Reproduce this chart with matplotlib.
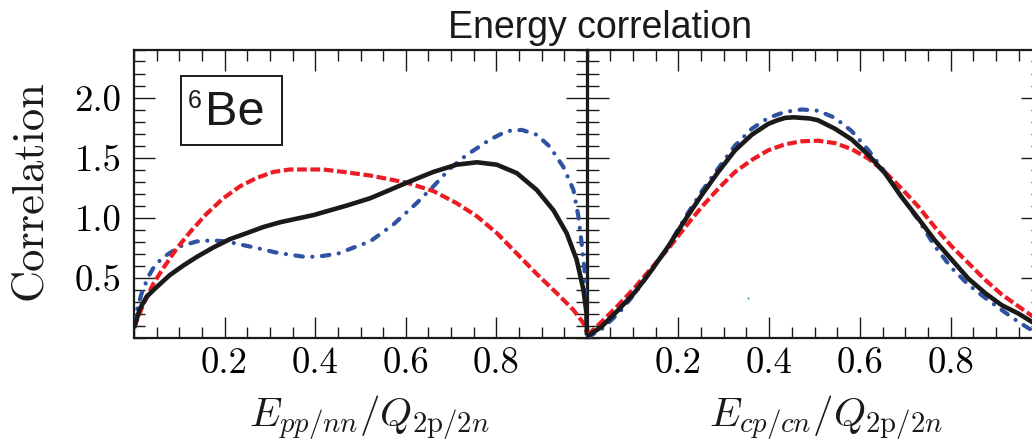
import matplotlib
matplotlib.use("Agg")
import matplotlib.pyplot as plt
from matplotlib.patches import Rectangle
from matplotlib.ticker import FixedLocator, MultipleLocator, NullFormatter, FixedFormatter

# ---- data -------------------------------------------------------------
# left panel: E_pp/nn / Q
pp_x_black = [0.0, 0.004, 0.013, 0.028, 0.050, 0.079, 0.109, 0.138, 0.175, 0.212,
              0.249, 0.285, 0.322, 0.359, 0.396, 0.433, 0.470, 0.521, 0.565, 0.602,
              0.661, 0.712, 0.757, 0.801, 0.845, 0.889, 0.926, 0.955, 0.977, 0.992,
              0.999, 1.0]
pp_y_black = [0.08, 0.13, 0.24, 0.34, 0.42, 0.52, 0.60, 0.67, 0.75, 0.82,
              0.87, 0.92, 0.96, 0.99, 1.02, 1.06, 1.10, 1.16, 1.23, 1.29,
              1.38, 1.44, 1.46, 1.44, 1.37, 1.23, 1.06, 0.87, 0.65, 0.40,
              0.20, 0.02]

pp_x_red = [0.0, 0.004, 0.021, 0.043, 0.065, 0.094, 0.124, 0.160, 0.197, 0.234,
            0.271, 0.308, 0.344, 0.381, 0.418, 0.462, 0.521, 0.602, 0.661, 0.712,
            0.757, 0.801, 0.845, 0.889, 0.933, 0.970, 0.992, 1.0]
pp_y_red = [0.08, 0.12, 0.28, 0.45, 0.58, 0.74, 0.88, 1.03, 1.16, 1.26,
            1.33, 1.38, 1.40, 1.40, 1.40, 1.38, 1.35, 1.29, 1.22, 1.12,
            1.01, 0.87, 0.70, 0.53, 0.37, 0.23, 0.12, 0.04]

pp_x_blue = [0.0, 0.004, 0.017, 0.032, 0.046, 0.065, 0.102, 0.138, 0.172, 0.205,
             0.241, 0.278, 0.311, 0.344, 0.381, 0.418, 0.451, 0.492, 0.521, 0.572,
             0.624, 0.661, 0.698, 0.734, 0.786, 0.823, 0.856, 0.889, 0.918, 0.948,
             0.970, 0.981, 0.988, 0.996, 1.0]
pp_y_blue = [0.10, 0.20, 0.37, 0.51, 0.60, 0.67, 0.76, 0.80, 0.81, 0.80,
             0.77, 0.74, 0.71, 0.69, 0.67, 0.68, 0.70, 0.76, 0.80, 0.94,
             1.12, 1.26, 1.41, 1.52, 1.65, 1.72, 1.73, 1.69, 1.59, 1.42,
             1.23, 1.01, 0.79, 0.51, 0.02]

# right panel: E_cp/cn / Q
cp_x_black = [0.0, 0.031, 0.068, 0.105, 0.141, 0.178, 0.215, 0.252, 0.288, 0.325,
              0.362, 0.398, 0.418, 0.435, 0.454, 0.472, 0.490, 0.508, 0.545, 0.582,
              0.619, 0.655, 0.692, 0.729, 0.765, 0.802, 0.839, 0.876, 0.912, 0.949,
              0.979, 1.0]
cp_y_black = [0.01, 0.09, 0.23, 0.38, 0.56, 0.76, 0.98, 1.19, 1.38, 1.56,
              1.69, 1.78, 1.81, 1.83, 1.835, 1.83, 1.825, 1.81, 1.74, 1.65,
              1.52, 1.37, 1.17, 0.99, 0.81, 0.65, 0.49, 0.37, 0.27, 0.20,
              0.13, 0.09]

cp_x_red = [0.0, 0.031, 0.068, 0.105, 0.141, 0.178, 0.215, 0.252, 0.288, 0.325,
            0.362, 0.398, 0.435, 0.472, 0.508, 0.545, 0.582, 0.619, 0.655, 0.692,
            0.729, 0.765, 0.802, 0.839, 0.876, 0.912, 0.949, 0.979, 1.0]
cp_y_red = [0.02, 0.13, 0.27, 0.42, 0.58, 0.74, 0.92, 1.09, 1.24, 1.38,
            1.48, 1.56, 1.61, 1.635, 1.64, 1.62, 1.57, 1.49, 1.38, 1.24,
            1.09, 0.92, 0.76, 0.62, 0.48, 0.36, 0.26, 0.18, 0.13]

cp_x_blue = [0.0, 0.031, 0.068, 0.105, 0.141, 0.178, 0.215, 0.252, 0.288, 0.325,
             0.362, 0.398, 0.435, 0.472, 0.508, 0.545, 0.582, 0.619, 0.655, 0.692,
             0.729, 0.765, 0.802, 0.839, 0.876, 0.912, 0.949, 0.979, 1.0]
cp_y_blue = [0.0, 0.07, 0.20, 0.37, 0.56, 0.76, 1.00, 1.22, 1.41, 1.60,
             1.74, 1.83, 1.88, 1.90, 1.89, 1.83, 1.72, 1.56, 1.38, 1.17,
             0.98, 0.76, 0.58, 0.44, 0.33, 0.23, 0.13, 0.06, 0.02]

stray_x = [0.354]
stray_y = [0.33]

x_ticks = [0.2, 0.4, 0.6, 0.8]
x_tick_labels = ["0.2", "0.4", "0.6", "0.8"]
y_ticks = [0.5, 1.0, 1.5, 2.0]
y_tick_labels = ["0.5", "1.0", "1.5", "2.0"]

title_text = "Energy correlation"
y_label = "Correlation"
x_label_left = r"$E_{pp/nn}/Q_{2\mathrm{p}/2n}$"
x_label_right = r"$E_{cp/cn}/Q_{2\mathrm{p}/2n}$"
nucleus_mass = "6"
nucleus_symbol = "Be"

# ---- styling ----------------------------------------------------------
plt.rcParams["mathtext.fontset"] = "cm"
plt.rcParams["lines.scale_dashes"] = False

BLACK = "#1a1a1a"
RED = "#ec1c24"
BLUE = "#2f52a2"
SERIF = "cmr10"
SANS = "Liberation Sans"

W, H = 1032, 443
fig = plt.figure(figsize=(W / 100, H / 100), dpi=100)

y0 = 1 - 337.5 / H
h = 288 / H
ax_l = fig.add_axes([134 / W, y0, 453 / W, h])
ax_r = fig.add_axes([587.5 / W, y0, 454 / W, h])


def style_axes(ax, show_ylabels):
    ax.set_xlim(0, 1)
    ax.set_ylim(0, 2.4)
    ax.xaxis.set_major_locator(FixedLocator(x_ticks))
    ax.xaxis.set_major_formatter(FixedFormatter(x_tick_labels))
    ax.xaxis.set_minor_locator(MultipleLocator(0.05))
    ax.xaxis.set_minor_formatter(NullFormatter())
    ax.yaxis.set_major_locator(FixedLocator(y_ticks))
    if show_ylabels:
        ax.yaxis.set_major_formatter(FixedFormatter(y_tick_labels))
    ax.yaxis.set_minor_locator(MultipleLocator(0.1))
    ax.yaxis.set_minor_formatter(NullFormatter())
    ax.tick_params(which="both", direction="in", top=True, bottom=True,
                   left=True, right=True, width=1.0, color=BLACK)
    ax.tick_params(which="major", length=15)
    ax.tick_params(which="minor", length=8)
    ax.tick_params(axis="x", pad=7, labelsize=26.5)
    ax.tick_params(axis="y", pad=9, labelsize=26.5, labelleft=show_ylabels)
    for lab in ax.get_xticklabels() + ax.get_yticklabels():
        lab.set_fontfamily(SERIF)
    for sp in ax.spines.values():
        sp.set_linewidth(1.6)
        sp.set_color(BLACK)


style_axes(ax_l, True)
style_axes(ax_r, False)

blue_dash = (0, (5.5, 6.8, 0.1, 6.8))
red_dash = (0, (7.0, 2.6))

for ax, xb, yb, xr, yr, xu, yu in [
    (ax_l, pp_x_black, pp_y_black, pp_x_red, pp_y_red, pp_x_blue, pp_y_blue),
    (ax_r, cp_x_black, cp_y_black, cp_x_red, cp_y_red, cp_x_blue, cp_y_blue),
]:
    ax.plot(xu, yu, color=BLUE, lw=3.0, linestyle=blue_dash,
            dash_capstyle="round", solid_joinstyle="round", zorder=3)
    ax.plot(xr, yr, color=RED, lw=3.0, linestyle=red_dash,
            dash_capstyle="butt", zorder=4)
    ax.plot(xb, yb, color=BLACK, lw=3.3, solid_capstyle="butt",
            solid_joinstyle="round", zorder=5)

ax_r.plot(stray_x, stray_y, "s", color="#1a9a3a", ms=1.2, mew=0, zorder=2)

# nucleus tag in a framed box
ax_l.add_patch(Rectangle((0.103, 1.604), 0.2246, 0.575, fill=False,
                         lw=1.4, edgecolor=BLACK, zorder=6))
ax_l.text(0.119, 1.9125, nucleus_mass, fontsize=18, family=SANS,
          color=BLACK, ha="left", va="baseline", zorder=7)
ax_l.text(0.156, 1.771, nucleus_symbol, fontsize=35, family=SANS,
          color=BLACK, ha="left", va="baseline", zorder=7)

# labels and title
fig.text(600 / W, 1 - 38 / H, title_text, fontsize=27, family=SANS,
         color=BLACK, ha="center", va="baseline")
fig.text(30 / W, 1 - 190 / H, y_label, fontsize=32, family=SERIF,
         color=BLACK, rotation=90, ha="center", va="center")
fig.text(369 / W, 1 - 426 / H, x_label_left, fontsize=29.5,
         color=BLACK, ha="center", va="baseline")
fig.text(826 / W, 1 - 426 / H, x_label_right, fontsize=29.5,
         color=BLACK, ha="center", va="baseline")

fig.savefig("out.png", dpi=100)
